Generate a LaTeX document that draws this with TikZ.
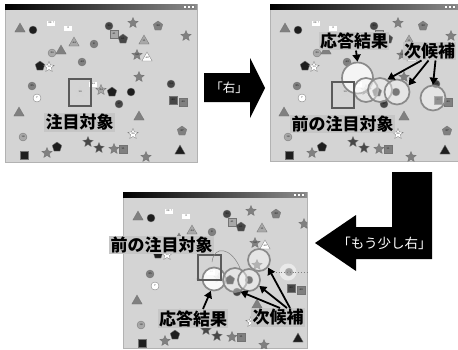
\documentclass[tikz,border=0pt]{standalone}
\usepackage{fontspec}
\newfontfamily\cjk{Noto Sans CJK JP}
\usetikzlibrary{shapes.geometric,shapes.misc,arrows.meta}
\definecolor{panelbg}{HTML}{D4D4D4}
\definecolor{labbg}{HTML}{C6C6C6}
\definecolor{cblack}{HTML}{1E1E1E}
\definecolor{cdark}{HTML}{474747}
\definecolor{cmid}{HTML}{808080}
\definecolor{clight}{HTML}{A8A8A8}
\definecolor{ring}{HTML}{8A8A8A}
\definecolor{boxc}{HTML}{5A5A5A}
\tikzset{
 obj/.style={inner sep=0pt, draw=black!55, line width=0.3pt, font=\fontsize{2.5}{2.5}\selectfont},
 tri/.style={obj, regular polygon, regular polygon sides=3, minimum size=12pt},
 circ/.style={obj, circle, minimum size=8pt},
 starr/.style={obj, star, star points=5, star point ratio=2.2, minimum size=11pt},
 pent/.style={obj, regular polygon, regular polygon sides=5, minimum size=10pt},
 sq/.style={obj, rectangle, minimum size=8pt},
 tag/.style={obj, rectangle, draw=none, fill=white, minimum width=8pt, minimum height=5pt},
 lab/.style={fill=labbg, inner sep=1.2pt, font=\cjk\bfseries\fontsize{17}{17}\selectfont},
 cand/.style={circle, draw=ring, line width=1.7pt, fill=white, fill opacity=0.4, inner sep=0pt},
 arr/.style={draw=black, line width=1.8pt, -{Triangle[length=7pt,width=8pt]}},
 prevbox/.style={draw=boxc, line width=1.6pt, inner sep=0pt},
 bigarrow/.style={fill=black},
 bigtext/.style={text=white, inner sep=0pt},
}
\newcommand\myscene{%
\node[tri,fill=cmid] (o1) at (15,25) {};
\node[circ,fill=cblack] (o2) at (28,26) {};
\node[tag] (o3) at (46,19) {39 !};
\node[tag] (o4) at (63,24) {3};
\node[circ,fill=cdark] (o5) at (104,22) {30};
\node[starr,fill=cmid] (o6) at (128,19) {};
\node[pent,fill=cmid] (o7) at (153,22) {32};
\node[sq,fill=clight] (o8) at (109,30) {41};
\node[pent,fill=cdark] (o9) at (118,35) {61};
\node[tri,fill=clight] (o10) at (139,37) {11};
\node[starr,fill=cmid] (o11) at (181,32) {};
\node[tri,fill=clight] (o12) at (69,39) {44};
\node[circ,fill=cmid] (o13) at (89,40) {8};
\node[tri,fill=cmid] (o14) at (56,47) {};
\node[circ,fill=clight] (o15) at (47,49) {30};
\node[starr,fill=cmid] (o16) at (132,51) {52};
\node[tri,fill=white] (o17) at (142,54) {42};
\node[circ,fill=cmid] (o18) at (77,58) {43};
\node[pent,fill=cblack] (o19) at (35,62) {};
\node[starr,fill=white] (o20) at (44,63) {10};
\node[starr,fill=cmid] (o21) at (134,73) {};
\node[starr,fill=clight!50!white,draw=none] (o22) at (75,88) {10};
\node[tag] (o23) at (88,80) {44};
\node[starr,fill=clight] (o24) at (96,86) {24};
\node[pent,fill=cblack] (o25) at (107,88) {};
\node[circ,fill=cblack] (o26) at (126,88) {};
\node[circ,fill=cdark] (o27) at (166,80) {54};
\node[circ,fill=cmid] (o28) at (27,82) {25};
\node[circ,fill=white] (o29) at (32,94) {7};
\node[circ,fill=cdark] (o30) at (114,100) {47};
\node[sq,fill=cdark] (o31) at (168,96) {40};
\node[sq,fill=cmid] (o32) at (178,98) {40};
\node[tri,fill=cmid] (o33) at (14,109) {};
\node[tri,fill=cmid] (o34) at (134,113) {};
\node[circ,fill=clight] (o35) at (18,133) {18};
\node[starr,fill=white] (o36) at (128,130) {26};
\node[pent,fill=cmid] (o37) at (177,127) {27};
\node[starr,fill=cdark] (o38) at (83,138) {};
\node[starr,fill=cdark] (o39) at (94,144) {};
\node[starr,fill=cmid] (o40) at (109,145) {};
\node[sq,fill=cmid] (o41) at (118,145) {11};
\node[pent,fill=cblack] (o42) at (52,143) {};
\node[sq,fill=cblack] (o43) at (19,151) {};
\node[starr,fill=cmid] (o44) at (42,149) {};
\node[starr,fill=cmid] (o45) at (141,153) {};
\node[tri,fill=cblack] (o46) at (175,147) {};
\node[circ,fill=cmid] (o47) at (57,121) {};
}
% window: x0 y0 x1 y1 prefix
\newcommand\mywin[5]{%
 \fill[panelbg, draw=gray!60, line width=0.4pt] (#1,#2) rectangle (#3,#4);
 \begin{scope}
  \clip (#1,#2) rectangle (#3,#4);
  \begin{scope}[shift={(#1,#2)}, name prefix=#5-]
   \myscene
  \end{scope}
 \end{scope}
 \shade[left color=black, right color=black!45] (#1,#2) rectangle (#3,#2+5);
 \foreach \k in {3,7,11}{
  \fill[white, draw=gray, line width=0.2pt] (#3-\k-3,#2+1) rectangle (#3-\k,#2+4);
 }
}
\begin{document}
\begin{tikzpicture}[x=1pt,y=-1pt]
\useasboundingbox (0,0) rectangle (458,349);
\fill[white] (0,0) rectangle (458,349);

% ---------- panel 1
\mywin{5}{4}{197}{162}{pa}
\node[prevbox, minimum width=22pt, minimum height=27pt] (tb1) at (80,92.5) {};
\node[lab] (l1) at (79.5,122.5) {注目対象};

% ---------- arrow "右"
\fill[bigarrow] (204,73) -- (250,73) -- (250,58) -- (265,88) -- (250,118) -- (250,102) -- (204,102) -- cycle;
\node[bigtext, font=\cjk\fontsize{12.5}{12.5}\selectfont] (t1) at (229,88) {「右」};

% ---------- panel 2
\mywin{270}{4}{458}{161}{pb}
\node[cand, minimum size=31pt, fill opacity=0.75] (r2) at (357.5,78) {};
\node[cand, minimum size=24pt] (c2a) at (366,90) {};
\node[cand, minimum size=24pt] (c2b) at (380,90) {};
\node[cand, minimum size=25pt] (c2c) at (397,92) {};
\node[cand, minimum size=25pt] (c2d) at (433,98) {};
\node[prevbox, minimum width=22pt, minimum height=26pt] (pb2) at (343,95) {};
\node[lab] (l2a) at (354,41) {応答結果};
\node[lab] (l2b) at (429.5,51) {次候補};
\node[lab] (l2c) at (342.5,124) {前の注目対象};
\draw[arr] ([xshift=2pt]l2a.south) -- (r2.north);
\draw[arr] ([xshift=-8pt]l2b.south) -- (c2b.55);
\draw[arr] ([xshift=-1pt]l2b.south) -- (c2c.30);
\draw[arr] ([xshift=6pt]l2b.south) -- (c2d.north);

% ---------- L arrow "もう少し右"
\fill[bigarrow] (392,172) -- (432,172) -- (432,259) -- (356,259) -- (356,271) -- (315,243) -- (356,215) -- (356,227) -- (392,227) -- cycle;
\node[bigtext, font=\cjk\fontsize{13.5}{13.5}\selectfont] (t2) at (384.5,243) {「もう少し右」};

% ---------- panel 3
\mywin{123}{192}{307}{348}{pc}
\node[circle, fill=white, fill opacity=0.5, minimum size=17pt, inner sep=0pt] (gl) at (288,272) {};
\coordinate (ds) at (273,272);
\coordinate (de) at (307,272);
\draw[gray, dotted, line width=0.8pt] (ds) -- (de);
\node[cand, minimum size=23pt, fill opacity=0.85] (r3) at (214,279) {};
\node[cand, minimum size=24pt] (d1) at (235,280) {};
\node[cand, minimum size=22pt] (d2) at (249,280) {};
\node[cand, minimum size=22pt] (d3) at (259,260) {};
\node[prevbox, minimum width=23pt, minimum height=25pt] (pb3) at (209.5,267.5) {};
\coordinate (cv0) at (212,262);
\coordinate (cv1) at (240,268);
\draw[gray, line width=0.5pt] (cv0) .. controls (214,245) and (231,247) .. (cv1);
\node[lab] (l3a) at (193,318.5) {応答結果};
\node[lab] (l3b) at (278,317.5) {次候補};
\node[lab] (l3c) at (161.5,245) {前の注目対象};
\draw[arr] ([xshift=10pt]l3a.north) -- (r3.255);
\draw[arr] ([xshift=12pt]l3b.north) -- (d3.-40);
\draw[arr] ([xshift=9pt]l3b.north) -- (d2.-30);
\draw[arr] ([xshift=2pt]l3b.north) -- (d1.-65);
\end{tikzpicture}
\end{document}
